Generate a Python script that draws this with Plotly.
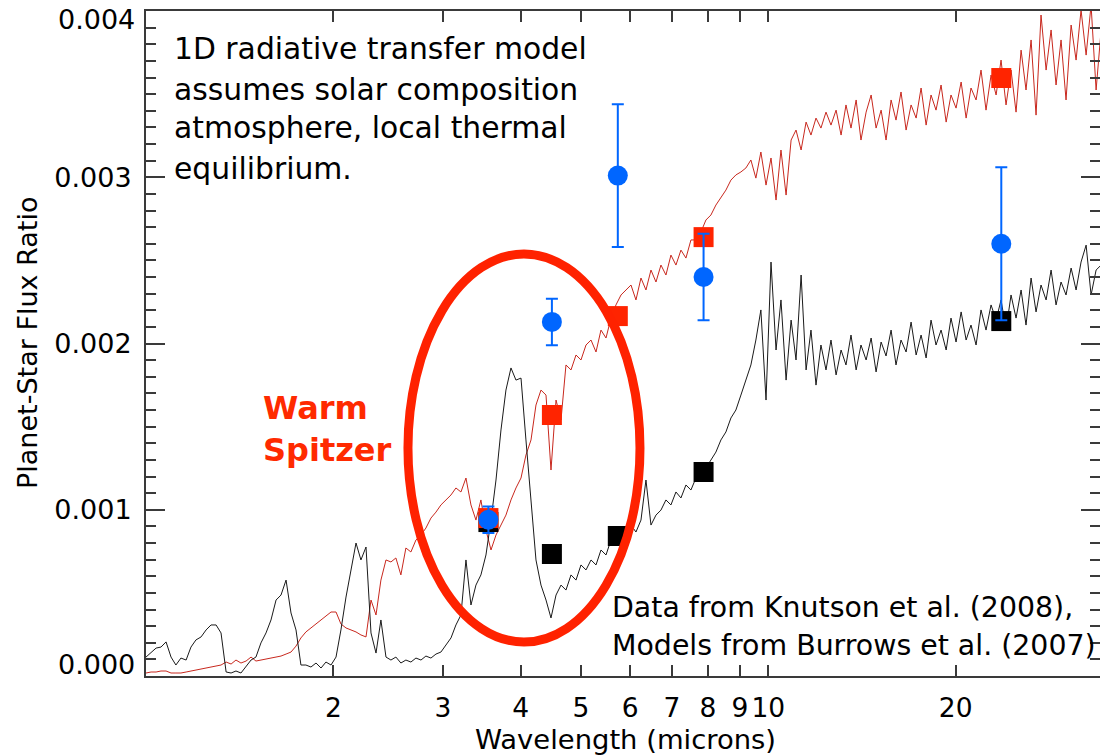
import plotly.graph_objects as go

# ---------------- data ----------------
wavelength = [
    1.000, 1.019, 1.038, 1.057, 1.077, 1.097, 1.117, 1.138, 1.160, 1.181,
    1.203, 1.226, 1.249, 1.272, 1.296, 1.320, 1.345, 1.370, 1.395, 1.421,
    1.448, 1.475, 1.502, 1.530, 1.559, 1.588, 1.618, 1.648, 1.679, 1.710,
    1.742, 1.774, 1.807, 1.841, 1.876, 1.911, 1.946, 1.983, 2.020, 2.057,
    2.096, 2.135, 2.175, 2.215, 2.257, 2.299, 2.342, 2.385, 2.430, 2.475,
    2.521, 2.568, 2.616, 2.665, 2.715, 2.766, 2.817, 2.870, 2.924, 2.978,
    3.034, 3.091, 3.148, 3.207, 3.267, 3.328, 3.390, 3.453, 3.518, 3.584,
    3.651, 3.719, 3.788, 3.859, 3.931, 4.005, 4.079, 4.156, 4.233, 4.312,
    4.393, 4.475, 4.559, 4.644, 4.730, 4.819, 4.909, 5.000, 5.094, 5.189,
    5.286, 5.384, 5.485, 5.587, 5.691, 5.798, 5.906, 6.016, 6.128, 6.243,
    6.359, 6.478, 6.599, 6.722, 6.847, 6.975, 7.105, 7.238, 7.373, 7.511,
    7.651, 7.794, 7.939, 8.087, 8.238, 8.392, 8.548, 8.708, 8.870, 9.036,
    9.205, 9.376, 9.551, 9.729, 9.916, 10.10, 10.29, 10.48, 10.68, 10.88,
    11.08, 11.29, 11.50, 11.71, 11.93, 12.15, 12.38, 12.61, 12.85, 13.09,
    13.33, 13.58, 13.84, 14.09, 14.36, 14.63, 14.90, 15.18, 15.46, 15.75,
    16.04, 16.34, 16.65, 16.96, 17.28, 17.60, 17.93, 18.26, 18.60, 18.95,
    19.31, 19.66, 20.03, 20.41, 20.79, 21.17, 21.57, 21.97, 22.38, 22.80,
    23.23, 23.66, 24.10, 24.55, 25.01, 25.48, 25.95, 26.44, 26.93, 27.43,
    27.95, 28.47, 29.00, 29.54, 30.09, 30.66, 31.23, 31.81, 32.41, 33.01,
    33.63, 34.26,
]

model_no_inversion = [  # black spectrum
    0.000114, 0.000144, 0.000168, 0.000174, 0.000205, 0.000114, 0.000066, 0.000108, 0.000096, 0.000174,
    0.000217, 0.000235, 0.000277, 0.000307, 0.000307, 0.000259, 0.000024, 0.000018, 0.000030, 0.000018,
    0.000054, 0.000096, 0.000114, 0.000199, 0.000259, 0.000337, 0.000457, 0.000487, 0.000577, 0.000379,
    0.000277, 0.000066, 0.000066, 0.000054, 0.000078, 0.000048, 0.000084, 0.000066, 0.000114, 0.000277,
    0.000475, 0.000638, 0.000800, 0.000698, 0.000776, 0.000259, 0.000138, 0.000337, 0.000114, 0.000096,
    0.000114, 0.000078, 0.000096, 0.000084, 0.000108, 0.000096, 0.000120, 0.000108, 0.000132, 0.000144,
    0.000186, 0.000229, 0.000307, 0.000367, 0.000698, 0.000427, 0.000547, 0.000608, 0.000728, 0.000938,
    0.001179, 0.001480, 0.001720, 0.001853, 0.001780, 0.001792, 0.001420, 0.001059, 0.000698, 0.000547,
    0.000457, 0.000349, 0.000487, 0.000547, 0.000517, 0.000608, 0.000577, 0.000668, 0.000638, 0.000698,
    0.000668, 0.000758, 0.000728, 0.000818, 0.000788, 0.000848, 0.000818, 0.000908, 0.000866, 0.000938,
    0.001179, 0.000908, 0.000968, 0.000998, 0.001059, 0.001029, 0.001107, 0.001071, 0.001149, 0.001119,
    0.001191, 0.001239, 0.001251, 0.001299, 0.001347, 0.001420, 0.001468, 0.001552, 0.001600, 0.001690,
    0.001780, 0.001871, 0.002021, 0.002202, 0.001660, 0.002490, 0.001961, 0.002262, 0.001780, 0.002141,
    0.001901, 0.002412, 0.001841, 0.002081, 0.001750, 0.001991, 0.001841, 0.002021, 0.001811, 0.001961,
    0.001871, 0.002051, 0.001841, 0.001991, 0.001901, 0.002033, 0.001829, 0.002009, 0.001925, 0.002081,
    0.001871, 0.002021, 0.001949, 0.002129, 0.001931, 0.002051, 0.001913, 0.002141, 0.001991, 0.002081,
    0.001961, 0.002153, 0.002009, 0.002190, 0.002021, 0.002111, 0.001991, 0.002202, 0.002081, 0.002232,
    0.002141, 0.002262, 0.002081, 0.002292, 0.002153, 0.002322, 0.002111, 0.002394, 0.002190, 0.002352,
    0.002262, 0.002442, 0.002232, 0.002370, 0.002292, 0.002454, 0.002322, 0.002490, 0.002592, 0.002292,
    0.002442, 0.002472,
]

model_inversion = [  # red spectrum
    0.000018, 0.000024, 0.000024, 0.000030, 0.000030, 0.000018, 0.000018, 0.000018, 0.000024, 0.000030,
    0.000036, 0.000042, 0.000048, 0.000054, 0.000060, 0.000066, 0.000084, 0.000072, 0.000096, 0.000078,
    0.000090, 0.000114, 0.000090, 0.000096, 0.000102, 0.000108, 0.000114, 0.000120, 0.000132, 0.000144,
    0.000180, 0.000229, 0.000265, 0.000289, 0.000313, 0.000337, 0.000361, 0.000385, 0.000385, 0.000313,
    0.000289, 0.000277, 0.000265, 0.000247, 0.000235, 0.000457, 0.000367, 0.000577, 0.000698, 0.000686,
    0.000710, 0.000608, 0.000770, 0.000746, 0.000818, 0.000848, 0.000890, 0.000950, 0.000986, 0.001029,
    0.001059, 0.001089, 0.001131, 0.001107, 0.001191, 0.001029, 0.000938, 0.001059, 0.000878, 0.000758,
    0.000848, 0.000908, 0.000968, 0.001059, 0.001131, 0.001191, 0.001329, 0.001420, 0.001630, 0.001720,
    0.001690, 0.001239, 0.001660, 0.001540, 0.001871, 0.001841, 0.001931, 0.001901, 0.001991, 0.002021,
    0.001949, 0.002081, 0.002033, 0.002153, 0.002232, 0.002292, 0.002322, 0.002352, 0.002262, 0.002394,
    0.002322, 0.002442, 0.002370, 0.002472, 0.002412, 0.002532, 0.002472, 0.002562, 0.002514, 0.002623,
    0.002623, 0.002671, 0.002743, 0.002773, 0.002833, 0.002875, 0.002923, 0.002983, 0.003014, 0.003032,
    0.003056, 0.003104, 0.002995, 0.003152, 0.002953, 0.003116, 0.002863, 0.003164, 0.002893, 0.003224,
    0.003284, 0.003164, 0.003332, 0.003254, 0.003356, 0.003296, 0.003392, 0.003314, 0.003404, 0.003254,
    0.003435, 0.003296, 0.003465, 0.003224, 0.003392, 0.003495, 0.003296, 0.003404, 0.003224, 0.003465,
    0.003344, 0.003513, 0.003284, 0.003435, 0.003356, 0.003537, 0.003314, 0.003495, 0.003404, 0.003555,
    0.003332, 0.003495, 0.003416, 0.003573, 0.003356, 0.003537, 0.003465, 0.003645, 0.003404, 0.003615,
    0.003495, 0.003705, 0.003435, 0.003645, 0.003392, 0.003765, 0.003525, 0.003826, 0.003374, 0.003976,
    0.003645, 0.003886, 0.003555, 0.003826, 0.003465, 0.003916, 0.003705, 0.004006, 0.003735, 0.004036,
    0.003525, 0.003886,
]

band_wavelength = [3.55, 4.49, 5.73, 7.87, 23.68]
band_model_inversion = [0.000950, 0.001570, 0.002165, 0.002640, 0.003597]
band_model_no_inversion = [0.000926, 0.000734, 0.000842, 0.001227, 0.002135]
observed_ratio = [0.00094, 0.00213, 0.00301, 0.00240, 0.00260]
observed_error = [0.00008, 0.00014, 0.00043, 0.00026, 0.00046]

x_tick_values = [2, 3, 4, 5, 6, 7, 8, 9, 10, 20]
x_tick_labels = ["2", "3", "4", "5", "6", "7", "8", "9", "10", "20"]
y_tick_values = [0.000, 0.001, 0.002, 0.003, 0.004]
# end labels are drawn as annotations, nudged inside the frame like the original
y_tick_labels = ["", "0.001", "0.002", "0.003", ""]
y_end_labels = ["0.000", "0.004"]

# ---------------- figure ----------------
FONT = "DejaVu Sans"
AXIS_COLOR = "#3a3a3a"

fig = go.Figure()

fig.add_trace(go.Scatter(x=wavelength, y=model_inversion, mode="lines",
                         line=dict(color="#c8281e", width=1), hoverinfo="skip"))
fig.add_trace(go.Scatter(x=wavelength, y=model_no_inversion, mode="lines",
                         line=dict(color="#1a1a1a", width=1), hoverinfo="skip"))
fig.add_trace(go.Scatter(x=band_wavelength, y=band_model_no_inversion, mode="markers",
                         marker=dict(symbol="square", size=20, color="#000000",
                                     line=dict(width=0)), hoverinfo="skip"))
fig.add_trace(go.Scatter(x=band_wavelength, y=band_model_inversion, mode="markers",
                         marker=dict(symbol="square", size=20, color="#ff2400",
                                     line=dict(width=0)), hoverinfo="skip"))
fig.add_trace(go.Scatter(x=band_wavelength, y=observed_ratio, mode="markers",
                         marker=dict(symbol="circle", size=20, color="#0066ff",
                                     line=dict(width=0)),
                         error_y=dict(type="data", array=observed_error, visible=True,
                                      color="#0066ff", thickness=2, width=6),
                         hoverinfo="skip"))

# red ellipse highlighting the Warm Spitzer bands (in plot-area fractions)
fig.add_shape(type="circle", xref="paper", yref="paper",
              x0=0.2746, x1=0.5178, y0=0.0511, y1=0.6346,
              line=dict(color="#ff2200", width=9), layer="above")

def note(text, x, y, size=29, color="black", bold=False, xanchor="left", angle=0):
    if bold:
        text = "<b>" + text + "</b>"
    fig.add_annotation(text=text, xref="paper", yref="paper", x=x, y=y,
                       xanchor=xanchor, yanchor="middle", showarrow=False,
                       textangle=angle,
                       font=dict(family=FONT, size=size, color=color))

note("1D radiative transfer model", 0.0272, 0.9429, size=29.8)
note("assumes solar composition", 0.0272, 0.8827, size=29.8)
note("atmosphere, local thermal", 0.0272, 0.8241, size=29.8)
note("equilibrium.", 0.0272, 0.7639, size=29.8)
note("Data from Knutson et al. (2008),", 0.4864, 0.1023, size=28.4)
note("Models from Burrows et al. (2007)", 0.4864, 0.0466, size=28.4)
note("Warm", 0.1205, 0.4030, size=32, color="#ff2a00", bold=True)
note("Spitzer", 0.1205, 0.3398, size=32, color="#ff2a00", bold=True)
note("Wavelength (microns)", 0.503, -0.0962, size=27.4, xanchor="center")
note("Planet-Star Flux Ratio", -0.1237, 0.5008, size=27, xanchor="center", angle=-90)
note(y_end_labels[0], -0.0094, 0.0180, size=27, xanchor="right")
note(y_end_labels[1], -0.0094, 0.9865, size=27, xanchor="right")

fig.update_xaxes(type="log", range=[0, 1.5330], automargin=False,
                 tickmode="array", tickvals=x_tick_values, ticktext=x_tick_labels,
                 ticks="inside", ticklen=11, tickwidth=1.5, tickcolor=AXIS_COLOR,
                 tickangle=0, ticklabelstandoff=7, ticklabeloverflow="allow",
                 showline=True, linecolor=AXIS_COLOR, linewidth=2, mirror="ticks",
                 showgrid=False, zeroline=False,
                 tickfont=dict(family=FONT, size=26.5, color="black"))
fig.update_yaxes(range=[0, 0.0040002], automargin=False,
                 tickmode="array", tickvals=y_tick_values, ticktext=y_tick_labels,
                 ticks="inside", ticklen=19, tickwidth=1.5, tickcolor=AXIS_COLOR,
                 minor=dict(dtick=0.0001, ticks="inside", ticklen=10, tickwidth=1.5,
                            tickcolor=AXIS_COLOR, showgrid=False),
                 ticklabelstandoff=7, ticklabeloverflow="allow",
                 showline=True, linecolor=AXIS_COLOR, linewidth=2, mirror="ticks",
                 showgrid=False, zeroline=False,
                 tickfont=dict(family=FONT, size=27, color="black"))

fig.update_layout(width=1100, height=755,
                  margin=dict(l=146, r=0, t=11, b=79, pad=0, autoexpand=False),
                  paper_bgcolor="white", plot_bgcolor="white",
                  showlegend=False, hovermode=False)

fig.write_html("out.html", config={"displayModeBar": False})
